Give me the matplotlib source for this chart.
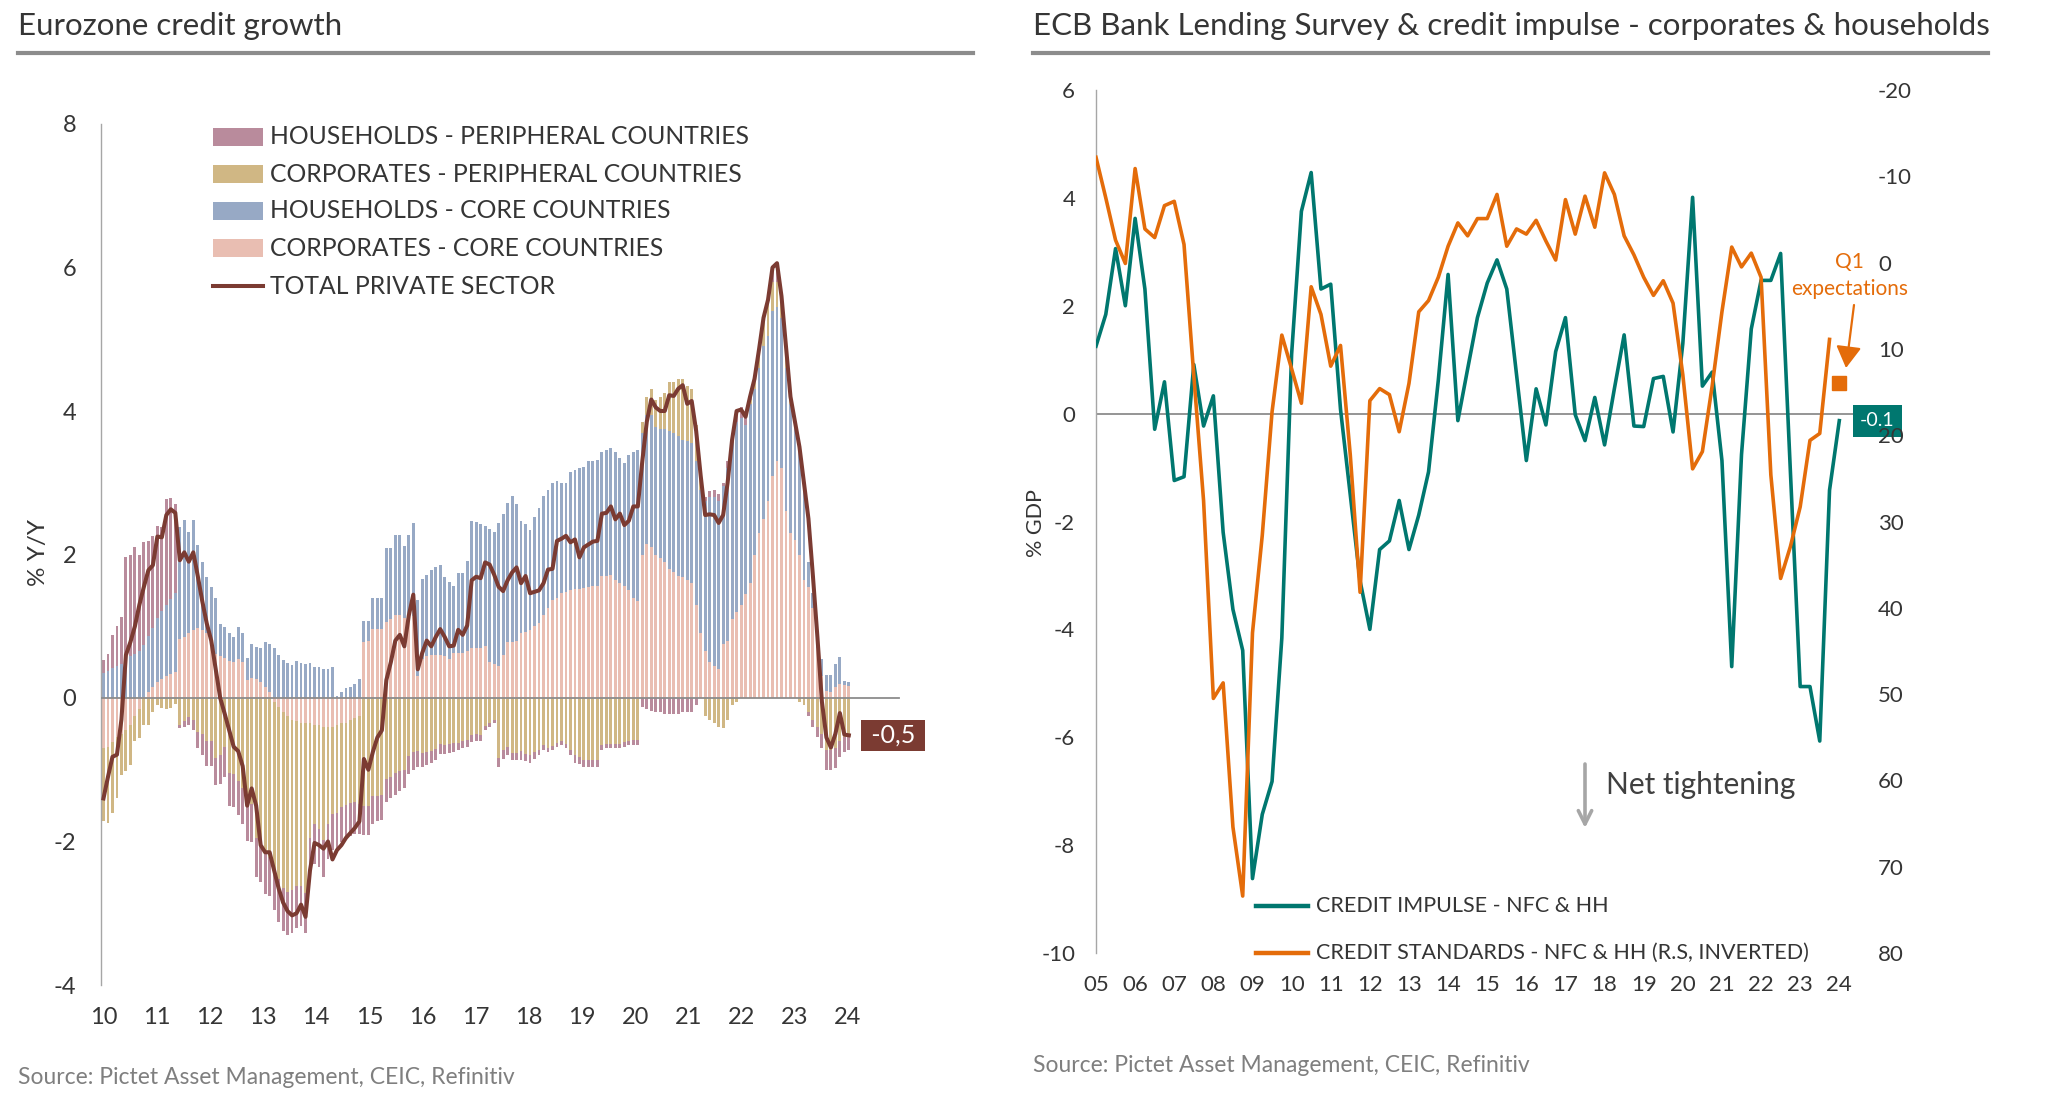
import numpy as np
import matplotlib
matplotlib.use("Agg")
import matplotlib.pyplot as plt
from matplotlib.patches import Rectangle
from matplotlib.lines import Line2D

plt.rcParams['font.family'] = ['Lato', 'DejaVu Sans']

# ---------------- LEFT CHART DATA (monthly, from Jan-2010, % Y/Y contributions) ----------------
year_labels_left = ["10", "11", "12", "13", "14", "15", "16", "17", "18", "19", "20", "21", "22", "23", "24"]

corp_core = [
    -0.70, -0.68, -0.62, -0.55, -0.50, -0.45, -0.38, -0.25, -0.15, 0.02, 0.08, 0.15,
    0.22, 0.26, 0.30, 0.33, 0.36, 0.82, 0.85, 0.90, 0.95, 0.97, 0.95, 0.90,
    0.72, 0.62, 0.58, 0.56, 0.52, 0.50, 0.55, 0.50, 0.25, 0.28, 0.26, 0.22,
    0.15, 0.08, -0.05, -0.12, -0.20, -0.25, -0.30, -0.32, -0.35, -0.35, -0.35, -0.38,
    -0.38, -0.40, -0.40, -0.40, -0.38, -0.35, -0.35, -0.30, -0.28, -0.25,
    0.78, 0.80, 0.96, 0.96, 0.96, 1.06, 1.10, 1.15, 1.16, 1.12, 1.12, 1.14,
    0.30, 0.55, 0.58, 0.60, 0.60, 0.60, 0.58, 0.55, 0.63, 0.63, 0.63, 0.65,
    0.70, 0.70, 0.70, 0.72, 0.50, 0.48, 0.45, 0.60, 0.78, 0.78, 0.80, 0.90,
    0.92, 0.95, 1.00, 1.05, 1.15, 1.25, 1.36, 1.40, 1.46, 1.48, 1.50, 1.52,
    1.52, 1.54, 1.55, 1.56, 1.56, 1.70, 1.70, 1.72, 1.65, 1.60, 1.56, 1.50, 1.40, 1.35,
    2.00, 2.15, 2.10, 2.00, 1.95, 1.90, 1.80, 1.75, 1.70, 1.68, 1.65, 1.60,
    1.30, 0.90, 0.65, 0.50, 0.45, 0.40, 0.75, 0.80, 1.10, 1.20, 1.30, 1.45,
    1.60, 2.00, 2.30, 2.50, 2.75, 3.10, 3.30, 3.20, 2.60, 2.30, 2.20, 2.00,
    1.65, 1.55, 1.25, 0.70, 0.30, 0.10, 0.08, 0.15, 0.20, 0.18, 0.17,
]

hh_core = [
    0.35, 0.38, 0.42, 0.45, 0.48, 0.55, 0.58, 0.62, 0.66, 0.72, 0.78, 0.82,
    0.90, 0.95, 1.00, 1.05, 1.10, 1.56, 1.63, 1.42, 1.53, 1.16, 0.95, 0.78,
    0.83, 0.77, 0.45, 0.43, 0.39, 0.35, 0.44, 0.41, 0.31, 0.47, 0.45, 0.47,
    0.63, 0.67, 0.69, 0.60, 0.53, 0.49, 0.46, 0.51, 0.49, 0.47, 0.49, 0.43,
    0.43, 0.41, 0.41, 0.43, 0.03, 0.08, 0.14, 0.15, 0.20, 0.27,
    0.29, 0.27, 0.44, 0.44, 0.44, 1.03, 0.99, 1.12, 1.11, 1.00, 1.15, 1.30,
    1.06, 1.11, 1.14, 1.18, 1.22, 1.26, 1.11, 1.07, 0.93, 1.11, 1.11, 1.26,
    1.77, 1.75, 1.72, 1.68, 1.86, 1.84, 1.99, 1.97, 1.94, 2.04, 1.90, 1.57,
    1.50, 1.39, 1.52, 1.60, 1.67, 1.65, 1.64, 1.62, 1.53, 1.51, 1.65, 1.66,
    1.68, 1.68, 1.75, 1.75, 1.76, 1.73, 1.75, 1.76, 1.78, 1.75, 1.71, 1.88, 2.03, 2.10,
    1.70, 1.80, 1.85, 1.78, 1.80, 1.85, 1.92, 1.95, 1.95, 1.92, 1.93, 1.95,
    2.00, 2.00, 2.10, 2.30, 2.35, 2.35, 2.20, 2.40, 2.45, 2.65, 2.60, 2.35,
    2.50, 2.30, 2.30, 2.40, 2.30, 2.30, 2.15, 2.10, 2.00, 1.80, 1.60, 1.45,
    1.40, 0.35, 0.22, 0.20, 0.24, 0.22, 0.24, 0.32, 0.37, 0.06, 0.05,
]

corp_periph = [
    -1.02, -1.06, -0.98, -0.85, -0.57, -0.57, -0.55, -0.35, -0.41, -0.37, -0.37, -0.19,
    -0.10, -0.14, -0.16, -0.14, -0.08, -0.37, -0.32, -0.26, -0.30, -0.48, -0.50, -0.60,
    -0.60, -0.83, -0.80, -0.68, -1.05, -1.06, -1.15, -1.26, -1.49, -1.48, -1.95, -2.02,
    -2.18, -2.21, -2.33, -2.40, -2.45, -2.46, -2.38, -2.30, -2.27, -2.37, -1.60, -1.38,
    -1.45, -1.58, -1.35, -1.22, -1.22, -1.17, -1.14, -1.17, -1.17, -1.23,
    -1.51, -1.51, -1.37, -1.36, -1.35, -1.13, -1.10, -1.05, -1.02, -1.00, -0.81, -0.75,
    -0.74, -0.76, -0.75, -0.74, -0.71, -0.64, -0.66, -0.64, -0.63, -0.63, -0.60, -0.58,
    -0.52, -0.50, -0.52, -0.39, -0.35, -0.30, -0.84, -0.73, -0.68, -0.76, -0.76, -0.74,
    -0.78, -0.80, -0.75, -0.72, -0.66, -0.69, -0.67, -0.63, -0.60, -0.64, -0.72, -0.80,
    -0.82, -0.86, -0.86, -0.86, -0.86, -0.66, -0.64, -0.64, -0.64, -0.64, -0.62, -0.60, -0.59, -0.59,
    0.15, 0.25, 0.35, 0.37, 0.45, 0.50, 0.68, 0.70, 0.80, 0.85, 0.77, 0.75,
    0.50, 0.20, -0.25, -0.30, -0.35, -0.40, -0.42, -0.30, -0.10, -0.05, 0.00, 0.00,
    0.05, 0.10, 0.20, 0.35, 0.45, 0.40, 0.35, 0.20, 0.20, 0.05, 0.00, -0.05,
    -0.10, -0.20, -0.30, -0.40, -0.50, -0.72, -0.72, -0.70, -0.60, -0.55, -0.52,
]

hh_periph = [
    0.18, 0.24, 0.46, 0.55, 0.65, 1.42, 1.42, 1.48, 1.34, 1.44, 1.33, 1.29,
    1.28, 1.17, 1.47, 1.41, 1.24, -0.05, -0.08, -0.12, -0.15, -0.22, -0.30, -0.35,
    -0.35, -0.38, -0.40, -0.42, -0.45, -0.46, -0.48, -0.50, -0.50, -0.52, -0.55, -0.55,
    -0.55, -0.55, -0.58, -0.60, -0.60, -0.60, -0.60, -0.58, -0.56, -0.56, -0.55, -0.55,
    -0.52, -0.52, -0.50, -0.50, -0.50, -0.48, -0.46, -0.45, -0.45, -0.42,
    -0.40, -0.40, -0.38, -0.36, -0.35, -0.32, -0.30, -0.30, -0.28, -0.26, -0.25, -0.25,
    -0.22, -0.20, -0.18, -0.16, -0.15, -0.14, -0.12, -0.12, -0.12, -0.10, -0.10, -0.10,
    -0.10, -0.10, -0.08, -0.06, -0.05, -0.05, -0.12, -0.12, -0.12, -0.10, -0.10, -0.12,
    -0.10, -0.10, -0.10, -0.08, -0.06, -0.06, -0.05, -0.05, -0.05, -0.06, -0.08, -0.10,
    -0.10, -0.10, -0.10, -0.10, -0.10, -0.06, -0.06, -0.06, -0.06, -0.06, -0.06, -0.06, -0.06, -0.06,
    -0.12, -0.15, -0.18, -0.20, -0.20, -0.22, -0.22, -0.22, -0.22, -0.20, -0.20, -0.20,
    -0.10, 0.00, 0.05, 0.08, 0.10, 0.10, 0.05, 0.10, 0.12, 0.15, 0.15, 0.10,
    0.05, 0.05, 0.05, 0.05, 0.05, 0.20, 0.25, 0.10, 0.10, 0.05, 0.05, 0.05,
    0.00, -0.05, -0.10, -0.15, -0.20, -0.28, -0.28, -0.27, -0.22, -0.20, -0.20,
]

total_private = [
    -1.40, -1.10, -0.82, -0.79, -0.30, 0.60, 0.78, 1.00, 1.30, 1.55, 1.78, 1.85,
    2.25, 2.24, 2.55, 2.63, 2.58, 1.92, 2.03, 1.90, 2.03, 1.70, 1.35, 1.04,
    0.80, 0.40, 0.00, -0.22, -0.45, -0.68, -0.74, -0.95, -1.50, -1.26, -1.50, -2.05,
    -2.15, -2.15, -2.40, -2.65, -2.85, -2.97, -3.03, -3.00, -2.88, -3.05, -2.40, -2.02,
    -2.05, -2.10, -2.00, -2.25, -2.12, -2.05, -1.95, -1.88, -1.81, -1.72, -0.85, -1.00,
    -0.75, -0.55, -0.45, 0.25, 0.50, 0.80, 0.88, 0.72, 1.15, 1.44, 0.40, 0.63,
    0.80, 0.72, 0.85, 0.96, 0.85, 0.72, 0.73, 0.95, 0.88, 1.01, 1.64, 1.69,
    1.67, 1.89, 1.86, 1.72, 1.55, 1.49, 1.64, 1.75, 1.82, 1.60, 1.70, 1.46,
    1.48, 1.50, 1.60, 1.79, 1.80, 2.19, 2.22, 2.26, 2.17, 2.21, 1.96, 2.10,
    2.14, 2.18, 2.19, 2.57, 2.58, 2.67, 2.49, 2.57, 2.41, 2.47, 2.67, 2.67,
    3.30, 3.85, 4.16, 4.05, 4.00, 4.00, 4.22, 4.21, 4.31, 4.36, 4.10, 4.14,
    3.72, 3.10, 2.55, 2.56, 2.55, 2.44, 2.55, 3.00, 3.60, 4.00, 4.02, 3.92,
    4.20, 4.45, 4.86, 5.30, 5.55, 6.00, 6.06, 5.60, 4.90, 4.20, 3.85, 3.50,
    3.00, 2.50, 1.70, 0.85, -0.05, -0.55, -0.69, -0.50, -0.21, -0.51, -0.52,
]

left_labels = ["HOUSEHOLDS - PERIPHERAL COUNTRIES", "CORPORATES - PERIPHERAL COUNTRIES",
               "HOUSEHOLDS - CORE COUNTRIES", "CORPORATES - CORE COUNTRIES", "TOTAL PRIVATE SECTOR"]
left_yticks = [-4, -2, 0, 2, 4, 6, 8]

# ---------------- RIGHT CHART DATA (quarterly, from 2005Q1) ----------------
year_labels_right = ["05", "06", "07", "08", "09", "10", "11", "12", "13", "14",
                     "15", "16", "17", "18", "19", "20", "21", "22", "23", "24"]
credit_impulse = [
    1.25, 1.84, 3.06, 2.00, 3.62, 2.31, -0.29, 0.59, -1.24, -1.17,
    0.91, -0.23, 0.33, -2.20, -3.63, -4.39, -8.62, -7.43, -6.82, -4.16,
    1.10, 3.75, 4.47, 2.31, 2.40, 0.08, -1.51, -3.10, -4.00, -2.52,
    -2.36, -1.61, -2.52, -1.88, -1.08, 0.62, 2.58, -0.13, 0.83, 1.78,
    2.42, 2.85, 2.31, 0.72, -0.87, 0.46, -0.21, 1.15, 1.78, -0.02,
    -0.50, 0.30, -0.58, 0.46, 1.46, -0.23, -0.24, 0.65, 0.69, -0.34,
    1.30, 4.01, 0.51, 0.77, -0.87, -4.69, -0.76, 1.57, 2.47, 2.47,
    2.97, -1.08, -5.06, -5.06, -6.07, -1.42, -0.13,
]
credit_standards = [
    -12.2, -7.5, -2.6, 0.1, -10.9, -3.9, -2.9, -6.6, -7.1, -2.1,
    13.1, 27.6, 50.5, 48.7, 65.4, 73.4, 42.9, 31.6, 17.3, 8.4,
    12.3, 16.3, 2.8, 6.0, 12.0, 9.6, 22.3, 38.2, 16.0, 14.6,
    15.3, 19.6, 14.0, 5.7, 4.4, 1.7, -1.9, -4.6, -3.1, -5.1,
    -5.1, -7.9, -1.9, -3.9, -3.3, -4.9, -2.5, -0.3, -7.3, -3.3,
    -7.7, -4.1, -10.4, -7.9, -3.1, -0.9, 1.7, 3.8, 2.1, 4.7,
    13.0, 23.9, 21.9, 14.3, 5.7, -1.8, 0.5, -1.1, 1.7, 24.6,
    36.6, 32.9, 28.3, 20.6, 19.8, 8.9,
]
q1_expectation = 14.0
right_labels = ["CREDIT IMPULSE - NFC & HH", "CREDIT STANDARDS - NFC & HH (R.S, INVERTED)"]
right_yticks = [-10, -8, -6, -4, -2, 0, 2, 4, 6]
right2_yticks = [-20, -10, 0, 10, 20, 30, 40, 50, 60, 70, 80]

# ---------------- styling ----------------
C_CC = "#e9beb2"
C_HC = "#97a9c5"
C_CP = "#d0b784"
C_HP = "#b98b9c"
C_TOT = "#7b3b32"
C_TEAL = "#00776f"
C_ORANGE = "#e46c0a"
TXT = "#353535"
GREY = "#8c8c8c"
SRC = "#7f7f7f"

W, H, DPI = 2048, 1103, 100
fig = plt.figure(figsize=(W / DPI, H / DPI), dpi=DPI)
fig.patch.set_facecolor("white")


def fx(px):
    return px / W


def fy(py):
    return 1 - py / H


# titles + underlines
fig.text(fx(18), fy(26), "Eurozone credit growth", fontsize=22.5, color=TXT, ha="left", va="center")
fig.text(fx(1033), fy(26), "ECB Bank Lending Survey & credit impulse - corporates & households",
         fontsize=22.5, color=TXT, ha="left", va="center")
fig.add_artist(Line2D([fx(18), fx(973)], [fy(53), fy(53)], color=GREY, lw=3.0))
fig.add_artist(Line2D([fx(1033), fx(1988)], [fy(53), fy(53)], color=GREY, lw=3.0))

# ================= LEFT =================
axL = fig.add_axes([fx(101), fy(985), fx(940) - fx(101), fy(124) - fy(985)])
n = len(total_private)
xm = np.arange(n)
pos_base = np.zeros(n)
neg_base = np.zeros(n)
for vals, col in [(corp_core, C_CC), (hh_core, C_HC), (corp_periph, C_CP), (hh_periph, C_HP)]:
    v = np.asarray(vals, dtype=float)
    p = np.where(v > 0, v, 0.0)
    q = np.where(v < 0, v, 0.0)
    axL.bar(xm, p, bottom=pos_base, width=0.64, color=col, linewidth=0, zorder=2)
    axL.bar(xm, q, bottom=neg_base, width=0.64, color=col, linewidth=0, zorder=2)
    pos_base += p
    neg_base += q
axL.plot(xm, total_private, color=C_TOT, lw=2.9, zorder=5, solid_joinstyle="round")
xmin_l, xmax_l = -0.55, 186.3
axL.set_xlim(xmin_l, xmax_l)
axL.set_ylim(-4, 8)
axL.axhline(0, xmin=0, xmax=(177.2 - xmin_l) / (xmax_l - xmin_l), color=GREY, lw=1.3, zorder=3)
axL.set_yticks(left_yticks)
axL.set_yticklabels([str(t) for t in left_yticks])
axL.set_xticks(np.linspace(0, n - 1.2, len(year_labels_left)))
axL.set_xticklabels(year_labels_left)
axL.tick_params(axis="y", length=0, labelsize=17, colors=TXT, pad=18)
axL.tick_params(axis="x", length=0, labelsize=17, colors=TXT, pad=16)
for s in ["top", "right", "bottom"]:
    axL.spines[s].set_visible(False)
axL.spines["left"].set_color("#a6a6a6")
axL.spines["left"].set_linewidth(1.0)
axL.set_facecolor("none")

last_txt = " " + f"{total_private[-1]:.1f}".replace(".", ",") + " "
axL.annotate(last_txt, xy=(n - 1, total_private[-1]), xytext=(11.5, 0), textcoords="offset points",
             ha="left", va="center", color="white", fontsize=18,
             bbox=dict(boxstyle="square,pad=0.15", fc=C_TOT, ec="none"), annotation_clip=False, zorder=6)

fig.text(fx(39), fy(552), "% Y/Y", rotation=90, fontsize=17.5, color=TXT, ha="center", va="center")

# legend (left)
rows = [137, 174, 211, 248, 286]
for lab, col, yy in zip(left_labels[:4], [C_HP, C_CP, C_HC, C_CC], rows[:4]):
    fig.add_artist(Rectangle((fx(213), fy(yy + 9)), fx(263) - fx(213), 18 / H,
                             transform=fig.transFigure, color=col, lw=0))
    fig.text(fx(270), fy(yy), lab, fontsize=17.8, color=TXT, ha="left", va="center")
fig.add_artist(Line2D([fx(213), fx(263)], [fy(rows[4]), fy(rows[4])], color=C_TOT, lw=2.9))
fig.text(fx(270), fy(rows[4]), left_labels[4], fontsize=17.8, color=TXT, ha="left", va="center")

fig.text(fx(18), fy(1078), "Source: Pictet Asset Management, CEIC, Refinitiv", fontsize=16.5,
         color=SRC, ha="left", va="center")

# ================= RIGHT =================
axR = fig.add_axes([fx(1096), fy(953), fx(1853) - fx(1096), fy(90) - fy(953)])
qi = np.arange(len(credit_impulse))
axR.plot(qi, credit_impulse, color=C_TEAL, lw=2.6, zorder=3)
xmax_r = 77.4
axR.set_xlim(0, xmax_r)
axR.set_ylim(-10, 6)
axR.axhline(0, color=GREY, lw=1.3, zorder=1)
axR.set_yticks(right_yticks)
axR.set_yticklabels([str(t) for t in right_yticks])
axR.set_xticks(np.arange(len(year_labels_right)) * 4)
axR.set_xticklabels(year_labels_right)
axR.tick_params(axis="y", length=0, labelsize=16, colors=TXT, pad=15)
axR.tick_params(axis="x", length=0, labelsize=16, colors=TXT, pad=16)
for s in ["top", "right", "bottom"]:
    axR.spines[s].set_visible(False)
axR.spines["left"].set_color("#a6a6a6")
axR.spines["left"].set_linewidth(1.0)

ci_txt = f"{credit_impulse[-1]:.1f}"
axR.annotate(ci_txt, xy=(qi[-1], credit_impulse[-1]), xytext=(15, 0), textcoords="offset points",
             ha="left", va="center", color="white", fontsize=14,
             bbox=dict(boxstyle="square,pad=0.38", fc=C_TEAL, ec="none"), annotation_clip=False)

axR2 = axR.twinx()
qs = np.arange(len(credit_standards))
axR2.plot(qs, credit_standards, color=C_ORANGE, lw=2.6, zorder=3)
axR2.plot([len(credit_standards)], [q1_expectation], marker="s", ms=9.4, color=C_ORANGE, ls="none")
axR2.set_ylim(80, -20)
axR2.set_yticks(right2_yticks)
axR2.set_yticklabels([str(t) for t in right2_yticks])
axR2.tick_params(axis="y", length=0, labelsize=16, colors=TXT, pad=18)
for s in ["top", "right", "bottom", "left"]:
    axR2.spines[s].set_visible(False)

fig.text(fx(1036), fy(523), "% GDP", rotation=90, fontsize=15.5, color=TXT, ha="center", va="center")

# Q1 expectations annotation
fig.text(fx(1849.5), fy(262), "Q1", fontsize=15, color=C_ORANGE, ha="center", va="center")
fig.text(fx(1849.5), fy(289), "expectations", fontsize=15, color=C_ORANGE, ha="center", va="center")
axR2.annotate("", xy=(fx(1846), fy(368)), xycoords="figure fraction",
              xytext=(fx(1854), fy(305)), textcoords="figure fraction",
              arrowprops=dict(arrowstyle="-|>,head_length=0.6,head_width=0.35", color=C_ORANGE,
                              lw=1.6, mutation_scale=22, shrinkA=0, shrinkB=0),
              annotation_clip=False)

# Net tightening
fig.text(fx(1606), fy(785), "Net tightening", fontsize=21.5, color="#404040", ha="left", va="center")
axR.annotate("", xy=(fx(1585), fy(828)), xycoords="figure fraction",
             xytext=(fx(1585), fy(764)), textcoords="figure fraction",
             arrowprops=dict(arrowstyle="->", color="#a6a6a6", lw=2.6, mutation_scale=24,
                             shrinkA=0, shrinkB=0),
             annotation_clip=False)

# legend (right)
for lab, col, yy in zip(right_labels, [C_TEAL, C_ORANGE], [906, 953]):
    fig.add_artist(Line2D([fx(1256), fx(1308)], [fy(yy), fy(yy)], color=col, lw=3.2))
    fig.text(fx(1316), fy(yy), lab, fontsize=15.5, color=TXT, ha="left", va="center")

fig.text(fx(1033), fy(1066), "Source: Pictet Asset Management, CEIC, Refinitiv", fontsize=16.5,
         color=SRC, ha="left", va="center")

fig.savefig("out.png", dpi=DPI, facecolor="white")
